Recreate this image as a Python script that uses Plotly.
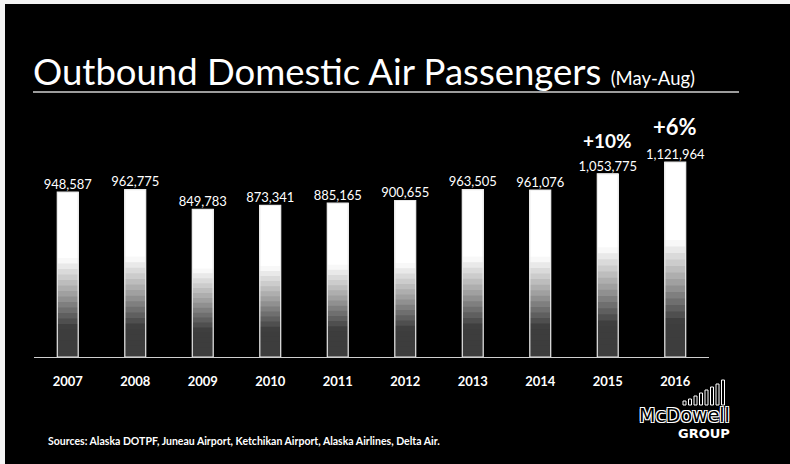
import plotly.graph_objects as go

# ---- data ----
years = ["2007", "2008", "2009", "2010", "2011", "2012", "2013", "2014", "2015", "2016"]
passengers = [948587, 962775, 849783, 873341, 885165, 900655, 963505, 961076, 1053775, 1121964]
growth_years = ["2015", "2016"]
growth_labels = ["+10%", "+6%"]
title_main = "Outbound Domestic Air Passengers"
title_sub = "(May-Aug)"
source_text = "Sources: Alaska DOTPF, Juneau Airport, Ketchikan Airport, Alaska Airlines, Delta Air."

W, H = 790, 464
ML, MR, MT, MB = 34, 81, 100, 107
PW, PH = W - ML - MR, H - MT - MB


def px(xp):
    return (xp - ML) / PW


def py(yp):
    return (H - MB - yp) / PH


xpos = list(range(len(years)))

fig = go.Figure()

# gradient bars: overlaid slices, each running from its start to the bar top
N = 30


def bright(f):
    if f >= 0.6:
        return 1.0
    if f >= 0.38:
        return 0.62 + (f - 0.38) / 0.22 * 0.38
    if f >= 0.18:
        return 0.24 + (f - 0.18) / 0.20 * 0.38
    return 0.24


for k in range(N):
    f0 = k / N
    b = bright(f0 + 0.5 / N)
    c = int(round(255 * b))
    fig.add_trace(go.Bar(
        x=xpos,
        y=[v * (1 - f0) for v in passengers],
        base=[v * f0 for v in passengers],
        width=0.31,
        marker=dict(color=f"rgb({c},{c},{c})", line=dict(width=0)),
        hoverinfo="skip", showlegend=False,
    ))

# bar outline
fig.add_trace(go.Bar(
    x=xpos, y=passengers, width=0.31,
    marker=dict(color="rgba(0,0,0,0)", line=dict(color="#e8e8e8", width=1.2)),
    hoverinfo="skip", showlegend=False,
))

# value labels
fig.add_trace(go.Scatter(
    x=xpos, y=passengers, mode="text",
    text=[f"{v:,}" for v in passengers],
    textposition="top center",
    textfont=dict(family="Lato", size=13, color="white"),
    hoverinfo="skip", showlegend=False,
))

# growth labels
shifts = [33, 36]
sizes = [19, 22]
for yr, lab, sh, sz in zip(growth_years, growth_labels, shifts, sizes):
    i = years.index(yr)
    fig.add_annotation(x=xpos[i], y=passengers[i], xref="x", yref="y",
                       text=f"<b>{lab}</b>", showarrow=False,
                       yshift=sh, yanchor="middle",
                       font=dict(family="Lato", size=sz, color="white"))

# title
fig.add_annotation(
    xref="paper", yref="paper", x=px(31), y=py(95), xanchor="left", yanchor="bottom",
    text=f"{title_main} <span style='font-size:18.5px'>{title_sub}</span>",
    showarrow=False, font=dict(family="Lato", size=36.5, color="white"),
)
fig.add_shape(type="line", xref="paper", yref="paper",
              x0=px(33), x1=px(739), y0=py(92), y1=py(92),
              line=dict(color="#d0d0d0", width=1.5))

# sources
fig.add_annotation(xref="paper", yref="paper", x=px(46), y=py(441),
                   xanchor="left", yanchor="middle", showarrow=False,
                   text=f"<b>{source_text}</b>",
                   font=dict(family="Lato", size=10.5, color="white"))

# logo
fig.add_annotation(xref="paper", yref="paper", x=px(684), y=py(415),
                   xanchor="center", yanchor="middle", showarrow=False,
                   text="McDowell",
                   font=dict(family="DejaVu Sans", size=19, color="black",
                             shadow="-1px -1px 0 #fff, 1px -1px 0 #fff, -1px 1px 0 #fff, 1px 1px 0 #fff"))
fig.add_annotation(xref="paper", yref="paper", x=px(704), y=py(433),
                   xanchor="center", yanchor="middle", showarrow=False,
                   text="<b>GROUP</b>",
                   font=dict(family="DejaVu Sans", size=13, color="white"))
logo_h = [4, 6, 9, 12, 15, 18, 21, 25]
for i, hh in enumerate(logo_h):
    x0 = 683 + i * 5.5
    fig.add_shape(type="rect", xref="paper", yref="paper",
                  x0=px(x0), x1=px(x0 + 3), y0=py(405), y1=py(405 - hh),
                  line=dict(color="white", width=1), fillcolor="black")

# white scan borders
fig.add_shape(type="rect", xref="paper", yref="paper", x0=px(0), x1=px(W), y0=py(0), y1=py(4),
              line=dict(width=0), fillcolor="#f4f4f4", layer="above")
fig.add_shape(type="rect", xref="paper", yref="paper", x0=px(0), x1=px(5), y0=py(0), y1=py(H),
              line=dict(width=0), fillcolor="#f4f4f4", layer="above")

fig.update_layout(
    width=W, height=H,
    margin=dict(l=ML, r=MR, t=MT, b=MB),
    paper_bgcolor="black", plot_bgcolor="black",
    barmode="overlay",
    showlegend=False,
    xaxis=dict(type="linear", range=[-0.5, len(years) - 0.5],
               tickmode="array", tickvals=xpos, ticktext=years,
               showline=True, linecolor="#cfcfcf", linewidth=1.2,
               showgrid=False, zeroline=False, ticks="",
               tickfont=dict(family="Lato", size=13, color="white", weight="bold"),
               ticklabelstandoff=12, fixedrange=True),
    yaxis=dict(range=[0, 1.479e6], visible=False, fixedrange=True),
)

fig.write_html("out.html")
